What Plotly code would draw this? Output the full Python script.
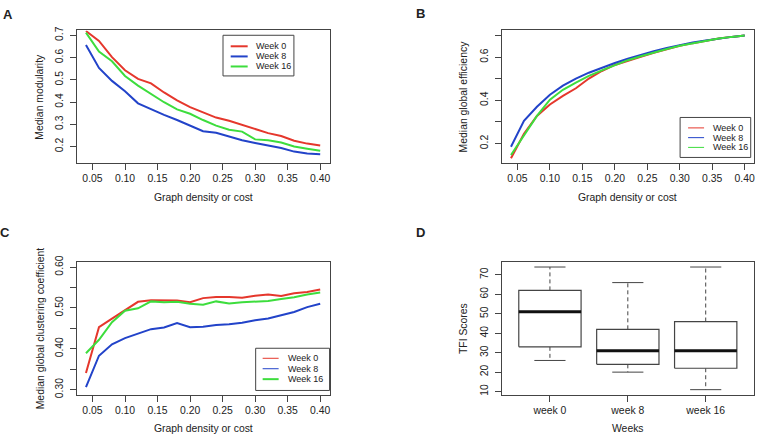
import plotly.graph_objects as go

W, H = 758, 440

# graph density / cost values (x axis of panels A, B, C)
density = [0.04, 0.06, 0.08, 0.10, 0.12, 0.14, 0.16, 0.18, 0.20, 0.22,
           0.24, 0.26, 0.28, 0.30, 0.32, 0.34, 0.36, 0.38, 0.40]
weeks = ["Week 0", "Week 8", "Week 16"]

# A - median modularity
mod_w0 = [0.719, 0.675, 0.602, 0.543, 0.504, 0.484, 0.443, 0.407, 0.377, 0.352,
          0.330, 0.316, 0.297, 0.279, 0.260, 0.247, 0.226, 0.213, 0.204]
mod_w8 = [0.656, 0.553, 0.495, 0.448, 0.394, 0.367, 0.342, 0.319, 0.294, 0.269,
          0.262, 0.244, 0.228, 0.216, 0.204, 0.193, 0.177, 0.169, 0.165]
mod_w16 = [0.712, 0.627, 0.583, 0.517, 0.474, 0.438, 0.399, 0.367, 0.347, 0.319,
           0.294, 0.275, 0.267, 0.232, 0.228, 0.218, 0.200, 0.190, 0.181]

# B - median global efficiency
eff_w0 = [0.132, 0.245, 0.328, 0.381, 0.421, 0.456, 0.501, 0.536, 0.564, 0.584,
          0.602, 0.620, 0.637, 0.653, 0.665, 0.677, 0.686, 0.694, 0.700]
eff_w8 = [0.185, 0.305, 0.370, 0.426, 0.468, 0.501, 0.528, 0.551, 0.573, 0.593,
          0.611, 0.628, 0.643, 0.656, 0.668, 0.677, 0.686, 0.694, 0.700]
eff_w16 = [0.147, 0.238, 0.328, 0.403, 0.449, 0.482, 0.513, 0.539, 0.564, 0.586,
           0.604, 0.622, 0.638, 0.653, 0.665, 0.677, 0.686, 0.694, 0.700]

# C - median global clustering coefficient
clu_w0 = [0.341, 0.453, 0.474, 0.495, 0.515, 0.519, 0.518, 0.518, 0.514, 0.524,
          0.527, 0.527, 0.525, 0.530, 0.533, 0.529, 0.536, 0.539, 0.545]
clu_w8 = [0.306, 0.383, 0.411, 0.426, 0.437, 0.448, 0.452, 0.463, 0.453, 0.454,
          0.458, 0.460, 0.464, 0.470, 0.474, 0.482, 0.490, 0.502, 0.510]
clu_w16 = [0.389, 0.422, 0.465, 0.493, 0.499, 0.516, 0.514, 0.515, 0.510, 0.508,
           0.516, 0.511, 0.514, 0.515, 0.517, 0.522, 0.526, 0.533, 0.538]

# D - TFI scores boxplot stats
box_labels = ["week 0", "week 8", "week 16"]
box_pos = [1, 2, 3]
tfi_lower = [26, 20, 11]
tfi_q1 = [33, 24, 22]
tfi_median = [51, 31, 31]
tfi_q3 = [62, 42, 46]
tfi_upper = [74, 66, 74]

x_ticks = [0.05, 0.10, 0.15, 0.20, 0.25, 0.30, 0.35, 0.40]

colors = ["#e5372c", "#2243c9", "#3ddd3d"]
FONT = "Liberation Sans, Arial, Helvetica, sans-serif"
TXT = "#222222"
LINE = "#444444"
FS = 10.4
LFS = 9


def px(x):
    return x / W


def py(y):
    return 1 - y / H


fig = go.Figure()

# panel boxes (pixels): x0, x1, y0(top), y1(bottom)
boxes = {
    "A": (76.7, 330.0, 24.0, 159.5),
    "B": (502.3, 755.0, 24.0, 159.5),
    "C": (76.7, 330.0, 261.7, 397.5),
    "D": (502.3, 755.0, 261.7, 397.5),
}
axis_ids = {"A": ("x", "y"), "B": ("x2", "y2"), "C": ("x3", "y3"), "D": ("x4", "y4")}

series = {
    "A": [mod_w0, mod_w8, mod_w16],
    "B": [eff_w0, eff_w8, eff_w16],
    "C": [clu_w0, clu_w8, clu_w16],
}

for panel, data in series.items():
    xa, ya = axis_ids[panel]
    for name, vals, col in zip(weeks, data, colors):
        fig.add_trace(go.Scatter(
            x=density, y=vals, mode="lines", name=name,
            line=dict(color=col, width=2),
            xaxis=xa, yaxis=ya, showlegend=False, hoverinfo="skip"
        ))

# boxplot built from the stats
hw, cw = 0.4, 0.2
for p, lo, q1, md, q3, hi in zip(box_pos, tfi_lower, tfi_q1, tfi_median, tfi_q3, tfi_upper):
    fig.add_trace(go.Scatter(
        x=[p, p, None, p, p], y=[q3, hi, None, q1, lo], mode="lines",
        line=dict(color=LINE, width=1, dash="4px,3px"),
        xaxis="x4", yaxis="y4", showlegend=False, hoverinfo="skip"))
    fig.add_trace(go.Scatter(
        x=[p - cw, p + cw, None, p - cw, p + cw], y=[hi, hi, None, lo, lo], mode="lines",
        line=dict(color=LINE, width=1),
        xaxis="x4", yaxis="y4", showlegend=False, hoverinfo="skip"))
    fig.add_trace(go.Scatter(
        x=[p - hw, p + hw, p + hw, p - hw, p - hw], y=[q1, q1, q3, q3, q1], mode="lines",
        fill="toself", fillcolor="white",
        line=dict(color=LINE, width=1.2),
        xaxis="x4", yaxis="y4", showlegend=False, hoverinfo="skip"))
    fig.add_trace(go.Scatter(
        x=[p - hw, p + hw], y=[md, md], mode="lines",
        line=dict(color="#111111", width=3),
        xaxis="x4", yaxis="y4", showlegend=False, hoverinfo="skip"))

common = dict(
    showgrid=False, zeroline=False, showline=True, mirror=True,
    linecolor=LINE, linewidth=1, ticks="outside", ticklen=6, tickwidth=1,
    tickcolor=LINE, tickfont=dict(family=FONT, size=FS, color=TXT),
)


def xdom(p):
    b = boxes[p]
    return [px(b[0]), px(b[1])]


def ydom(p):
    b = boxes[p]
    return [py(b[3]), py(b[2])]


xr = [0.0256, 0.4144]
xtext = ["%.2f" % v for v in x_ticks]

layout_axes = dict(
    xaxis=dict(domain=xdom("A"), range=xr, tickvals=x_ticks, ticktext=xtext, anchor="y", **common),
    yaxis=dict(domain=ydom("A"), range=[0.128, 0.722], tickvals=[0.2, 0.3, 0.4, 0.5, 0.6, 0.7],
               ticktext=["0.2", "0.3", "0.4", "0.5", "0.6", "0.7"], tickangle=-90,
               anchor="x", ticklabelstandoff=2, **common),
    xaxis2=dict(domain=xdom("B"), range=xr, tickvals=x_ticks, ticktext=xtext, anchor="y2", **common),
    yaxis2=dict(domain=ydom("B"), range=[0.112, 0.724], tickvals=[0.2, 0.3, 0.4, 0.5, 0.6, 0.7],
                ticktext=["0.2", "", "0.4", "", "0.6", ""], tickangle=-90,
                anchor="x2", ticklabelstandoff=2, **common),
    xaxis3=dict(domain=xdom("C"), range=xr, tickvals=x_ticks, ticktext=xtext, anchor="y3", **common),
    yaxis3=dict(domain=ydom("C"), range=[0.288, 0.612],
                tickvals=[0.30, 0.35, 0.40, 0.45, 0.50, 0.55, 0.60],
                ticktext=["0.30", "", "0.40", "", "0.50", "", "0.60"], tickangle=-90,
                anchor="x3", ticklabelstandoff=2, **common),
    xaxis4=dict(domain=xdom("D"), range=[0.38, 3.62], tickvals=box_pos, ticktext=box_labels,
                anchor="y4", **common),
    yaxis4=dict(domain=ydom("D"), range=[8.48, 76.5], tickvals=[10, 20, 30, 40, 50, 60, 70],
                tickangle=-90, anchor="x4", ticklabelstandoff=2, **common),
)

annotations = []
shapes = []


def text(x, y, s, size=FS, angle=0, bold=False, xanchor="center"):
    annotations.append(dict(
        x=px(x), y=py(y), xref="paper", yref="paper", text="<b>%s</b>" % s if bold else s,
        showarrow=False, textangle=angle, xanchor=xanchor, yanchor="middle",
        font=dict(family=FONT, size=size, color=TXT)))


# panel letters
text(8, 7.5, "A", size=13, bold=True)
text(421, 6.5, "B", size=13, bold=True)
text(5.5, 231, "C", size=13, bold=True)
text(421, 231, "D", size=13, bold=True)

# axis titles
text(203.4, 195, "Graph density or cost")
text(628.7, 195, "Graph density or cost")
text(203.4, 432, "Graph density or cost")
text(628.7, 432, "Weeks")
text(40, 92, "Median modularity", angle=-90)
text(464.3, 92, "Median global efficiency", angle=-90)
text(40, 329.6, "Median global clustering coefficient", angle=-90)
text(464.3, 329.6, "TFI Scores", angle=-90)


def legend(x0, x1, y0, y1, rows, lx0, lx1, tx, widths):
    shapes.append(dict(type="rect", xref="paper", yref="paper",
                       x0=px(x0), x1=px(x1), y0=py(y1), y1=py(y0),
                       line=dict(color=LINE, width=1), fillcolor="white"))
    for name, col, yy, lw in zip(weeks, colors, rows, widths):
        shapes.append(dict(type="line", xref="paper", yref="paper",
                           x0=px(lx0), x1=px(lx1), y0=py(yy), y1=py(yy),
                           line=dict(color=col, width=lw)))
        text(tx, yy, name, size=LFS, xanchor="left")


legend(223.3, 294.3, 29, 70.7, [40.3, 50.7, 61.0], 231, 248, 254, [2, 2, 2])
legend(681, 751.7, 113.3, 154.3, [124, 134, 144], 689, 705, 711.5, [1, 1, 1])
legend(256, 330, 350, 393.3, [360.3, 371, 381.7], 263, 279, 286, [1, 1, 2])

fig.update_layout(
    width=W, height=H,
    margin=dict(l=0, r=0, t=0, b=0),
    paper_bgcolor="white", plot_bgcolor="white",
    annotations=annotations, shapes=shapes,
    **layout_axes
)

fig.write_html("out.html", config={"displayModeBar": False},
               post_script="document.body.style.margin='0';")
